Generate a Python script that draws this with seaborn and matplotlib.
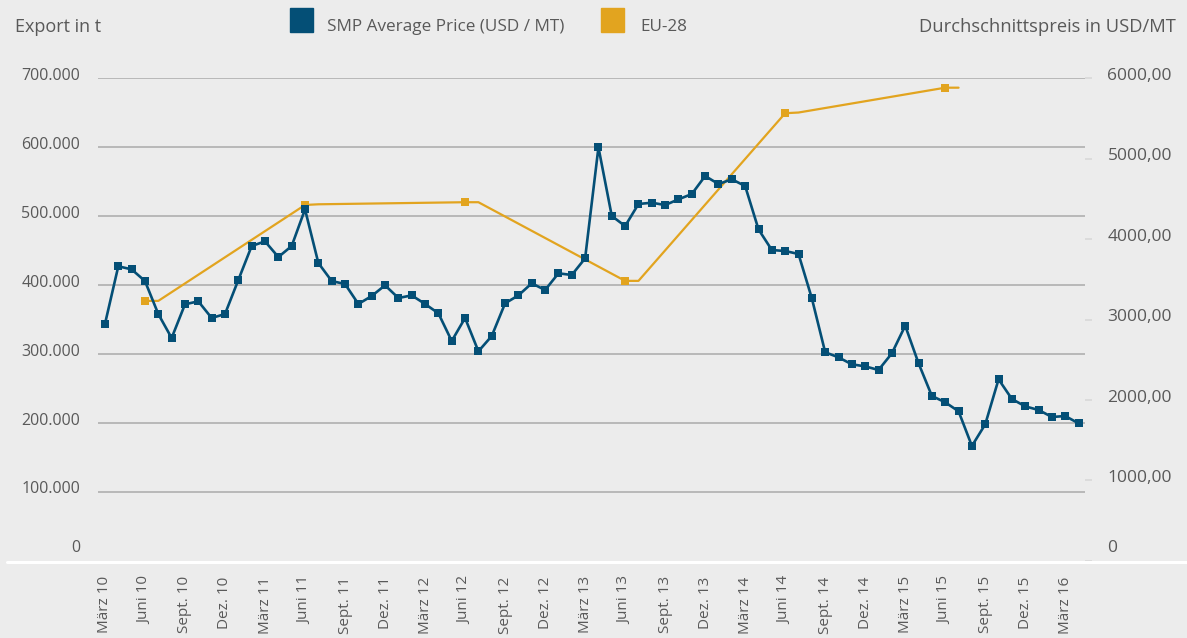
import pandas as pd
import matplotlib.pyplot as plt
import matplotlib.transforms as mtransforms
import seaborn as sns
from matplotlib.lines import Line2D
from matplotlib.patches import Rectangle

# SMP average price (USD/MT), monthly März 2010 - April 2016
smp_price = [2944, 3661, 3623, 3478, 3068, 2770, 3189, 3226, 3019, 3068,
             3491, 3913, 3971, 3776, 3913, 4369, 3702, 3478, 3441, 3193,
             3292, 3425, 3267, 3300, 3193, 3077, 2733, 3019, 2605, 2795,
             3201, 3300, 3450, 3366, 3574, 3553, 3760, 5139, 4286, 4161,
             4435, 4451, 4422, 4493, 4559, 4783, 4683, 4742, 4658, 4120,
             3863, 3851, 3814, 3263, 2593, 2530, 2443, 2418, 2373, 2580,
             2923, 2456, 2050, 1971, 1860, 1429, 1698, 2257, 2012, 1921,
             1876, 1789, 1801, 1710]

# EU-28 exports in t (value held for two consecutive months)
eu_months = ['2010-06', '2010-07', '2011-06', '2011-07', '2012-06', '2012-07',
             '2013-06', '2013-07', '2014-06', '2014-07', '2015-06', '2015-07']
eu_export = [377000, 377000, 516000, 517000, 520000, 520000,
             406000, 406000, 649000, 650000, 686000, 686000]

tick_labels = ['März 10', 'Juni 10', 'Sept. 10', 'Dez. 10',
               'März 11', 'Juni 11', 'Sept. 11', 'Dez. 11',
               'März 12', 'Juni 12', 'Sept. 12', 'Dez. 12',
               'März 13', 'Juni 13', 'Sept. 13', 'Dez. 13',
               'März 14', 'Juni 14', 'Sept. 14', 'Dez. 14',
               'März 15', 'Juni 15', 'Sept. 15', 'Dez. 15',
               'März 16']

left_ticks = [0, 100000, 200000, 300000, 400000, 500000, 600000, 700000]
right_ticks = [0, 1000, 2000, 3000, 4000, 5000, 6000]

BLUE = '#044f76'
GOLD = '#e2a41f'
BG = '#ececec'
TXT = '#595959'

sns.set_style('white', {'axes.facecolor': BG, 'figure.facecolor': BG})
plt.rcParams['font.family'] = ['Open Sans', 'DejaVu Sans']

start = pd.Period('2010-03', freq='M')
smp = pd.DataFrame({'pos': range(len(smp_price)), 'price': smp_price})
eu = pd.DataFrame({'pos': [(pd.Period(m, freq='M') - start).n for m in eu_months],
                   'export': eu_export})

fig = plt.figure(figsize=(11.87, 6.38), dpi=100)
ax = fig.add_axes([0.0828, 0.1207, 0.8315, 0.757])
ax2 = ax.twinx()

sns.lineplot(data=eu, x='pos', y='export', ax=ax, color=GOLD, lw=1.6,
             marker='s', markersize=5.5, markeredgewidth=0,
             markevery=list(range(0, len(eu), 2)))
sns.lineplot(data=smp, x='pos', y='price', ax=ax2, color=BLUE, lw=1.9,
             marker='s', markersize=5.8, markeredgewidth=0)

ax.set_xlim(-0.5, len(smp_price) - 0.5)
ax.set_ylim(0, 700000)
ax2.set_ylim(0, 6000)

for y in left_ticks[1:]:
    ax.axhline(y, color='#b4b4b4', lw=1.3, zorder=0)

ax.set_xticks(range(0, len(smp_price), 3))
ax.set_xticklabels(tick_labels, rotation=90, fontsize=11, color=TXT)
ax.tick_params(axis='x', length=0, pad=11)

ax.set_yticks(left_ticks)
ax.set_yticklabels([f'{v:,}'.replace(',', '.') for v in left_ticks],
                   fontsize=11.5, color=TXT)
ax.tick_params(axis='y', length=0, pad=13)

ax2.set_yticks(right_ticks)
ax2.set_yticklabels(['0'] + [f'{v},00' for v in right_ticks[1:]],
                    fontsize=12.5, color=TXT)
ax2.tick_params(axis='y', length=5, width=1.3, color='#dadada', pad=11)

# labels sit a few pixels above their grid lines
lift = mtransforms.ScaledTranslation(0, 0.045, fig.dpi_scale_trans)
for a in (ax, ax2):
    labs = a.get_yticklabels()
    for lab in labs:
        lab.set_transform(lab.get_transform() + lift)
    labs[0].set_verticalalignment('bottom')

for a in (ax, ax2):
    a.set_xlabel('')
    a.set_ylabel('')
    for s in a.spines.values():
        s.set_visible(False)

fig.add_artist(Line2D([0.006, 1.0], [0.1191, 0.1191], color='white', lw=2.2))

fig.text(0.013, 0.958, 'Export in t', fontsize=13, color=TXT, va='center')
fig.text(0.991, 0.958, 'Durchschnittspreis in USD/MT', fontsize=13.2,
         color=TXT, va='center', ha='right')
fig.add_artist(Rectangle((290 / 1187, 1 - 32 / 638), 23 / 1187, 24 / 638,
                         transform=fig.transFigure, color=BLUE))
fig.text(327 / 1187, 0.958, 'SMP Average Price (USD / MT)', fontsize=12.3,
         color=TXT, va='center')
fig.add_artist(Rectangle((601 / 1187, 1 - 32 / 638), 23 / 1187, 24 / 638,
                         transform=fig.transFigure, color=GOLD))
fig.text(640 / 1187, 0.958, 'EU-28', fontsize=12.3, color=TXT, va='center')

fig.savefig('out.png', dpi=100, facecolor=BG)
